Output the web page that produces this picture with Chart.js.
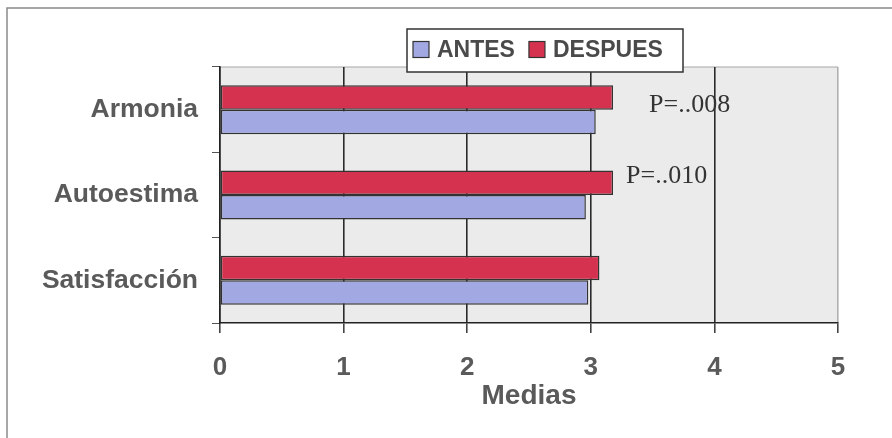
<!DOCTYPE html>
<html>
<head>
<meta charset="utf-8">
<title>Medias ANTES / DESPUES</title>
<script src="https://cdn.jsdelivr.net/npm/chart.js@4.4.1/dist/chart.umd.min.js"></script>
<style>
  html, body { margin: 0; padding: 0; background: #ffffff; }
  #wrap { width: 892px; height: 438px; }
</style>
</head>
<body>
<div id="wrap"><canvas id="c" width="892" height="438"></canvas></div>
<script>
// Categories and mean scores before / after
const categories = ['Armonia', 'Autoestima', 'Satisfacción'];
const antes = [3.04, 2.96, 2.98];
const despues = [3.18, 3.18, 3.07];
const xTickValues = [0, 1, 2, 3, 4, 5];
const pValues = ['P=..008', 'P=..010', ''];

const SANS = '"Liberation Sans", Arial, sans-serif';
const SERIF = '"Liberation Serif", "Times New Roman", serif';
const TEXT = '#5a5a5a';
const RED = '#d4324f';
const BLUE = '#a2a8e2';
const EDGE = '#333333';

// Page frame, plot background and top plot border
const framePlugin = {
  id: 'frame',
  beforeDraw(chart) {
    const {ctx, chartArea: a} = chart;
    ctx.save();
    ctx.fillStyle = '#ffffff';
    ctx.fillRect(0, 0, chart.width, chart.height);
    ctx.strokeStyle = '#8a8a8a';
    ctx.lineWidth = 1.5;
    ctx.beginPath();
    ctx.moveTo(7, chart.height);
    ctx.lineTo(7, 8);
    ctx.lineTo(chart.width, 8);
    ctx.stroke();
    ctx.fillStyle = '#ebebeb';
    ctx.fillRect(a.left, a.top, a.right - a.left, a.bottom - a.top);
    ctx.strokeStyle = '#a8a8a8';
    ctx.lineWidth = 1.2;
    ctx.beginPath();
    ctx.moveTo(a.left, a.top);
    ctx.lineTo(a.right, a.top);
    ctx.stroke();
    ctx.restore();
  }
};

// Significance labels next to the DESPUES bars
const pLabelPlugin = {
  id: 'pLabels',
  afterDatasetsDraw(chart) {
    const {ctx} = chart;
    const meta = chart.getDatasetMeta(0);
    const shifts = [[36, 8], [13, -7], [0, 0]];
    ctx.save();
    ctx.font = '26px ' + SERIF;
    ctx.fillStyle = '#333333';
    ctx.textAlign = 'left';
    ctx.textBaseline = 'middle';
    meta.data.forEach((bar, i) => {
      if (!pValues[i]) return;
      ctx.fillText(pValues[i], bar.x + shifts[i][0], bar.y + shifts[i][1]);
    });
    ctx.restore();
  }
};

// Boxed legend overlapping the top of the plot
const legendBoxPlugin = {
  id: 'legendBox',
  afterDraw(chart) {
    const {ctx} = chart;
    const items = [chart.data.datasets[1], chart.data.datasets[0]];
    const box = {x: 407, y: 29, w: 276, h: 43};
    ctx.save();
    ctx.fillStyle = '#ffffff';
    ctx.fillRect(box.x, box.y, box.w, box.h);
    ctx.strokeStyle = EDGE;
    ctx.lineWidth = 1.5;
    ctx.strokeRect(box.x, box.y, box.w, box.h);
    ctx.font = 'bold 23px ' + SANS;
    ctx.textBaseline = 'middle';
    ctx.textAlign = 'left';
    let x = box.x + 6;
    const cy = box.y + box.h / 2 - 1;
    items.forEach(ds => {
      ctx.fillStyle = ds.backgroundColor;
      ctx.fillRect(x, cy - 8, 16, 16);
      ctx.strokeStyle = EDGE;
      ctx.lineWidth = 1.2;
      ctx.strokeRect(x, cy - 8, 16, 16);
      ctx.fillStyle = '#4a4a4a';
      ctx.fillText(ds.label, x + 24, cy + 1);
      x += 24 + ctx.measureText(ds.label).width + 14;
    });
    ctx.restore();
  }
};

new Chart(document.getElementById('c'), {
  type: 'bar',
  data: {
    labels: categories,
    datasets: [
      { label: 'DESPUES', data: despues, backgroundColor: RED, borderColor: EDGE,
        borderWidth: 1.5, borderSkipped: false, categoryPercentage: 0.575, barPercentage: 1 },
      { label: 'ANTES', data: antes, backgroundColor: BLUE, borderColor: EDGE,
        borderWidth: 1.5, borderSkipped: false, categoryPercentage: 0.575, barPercentage: 1 }
    ]
  },
  options: {
    indexAxis: 'y',
    responsive: false,
    animation: false,
    devicePixelRatio: 1,
    layout: { padding: { left: 0, top: 67, right: 54, bottom: 0 } },
    plugins: {
      legend: { display: false },
      tooltip: { enabled: false }
    },
    scales: {
      y: {
        afterFit(scale) { scale.width = 220; },
        grid: { drawOnChartArea: false, drawTicks: true, tickLength: 8, tickColor: '#555555', offset: true },
        border: { color: '#222222', width: 1.5 },
        ticks: { color: TEXT, padding: 14, font: { family: SANS, size: 26.5, weight: 'bold' } }
      },
      x: {
        min: 0,
        max: 5,
        afterFit(scale) { scale.height = 115; },
        afterBuildTicks(scale) { scale.ticks = xTickValues.map(v => ({ value: v })); },
        grid: {
          color: ctx => (ctx.tick && ctx.tick.value === 5) ? '#b0b0b0' : '#2a2a2a',
          lineWidth: 1.6,
          tickLength: 10,
          tickColor: '#444444'
        },
        border: { color: '#222222', width: 1.6 },
        ticks: { color: TEXT, padding: 19, font: { family: SANS, size: 26, weight: 'bold' } },
        title: {
          display: true,
          text: 'Medias',
          color: TEXT,
          font: { family: SANS, size: 28, weight: 'bold' },
          padding: { top: 0, bottom: 25 }
        }
      }
    }
  },
  plugins: [framePlugin, pLabelPlugin, legendBoxPlugin]
});
</script>
</body>
</html>
